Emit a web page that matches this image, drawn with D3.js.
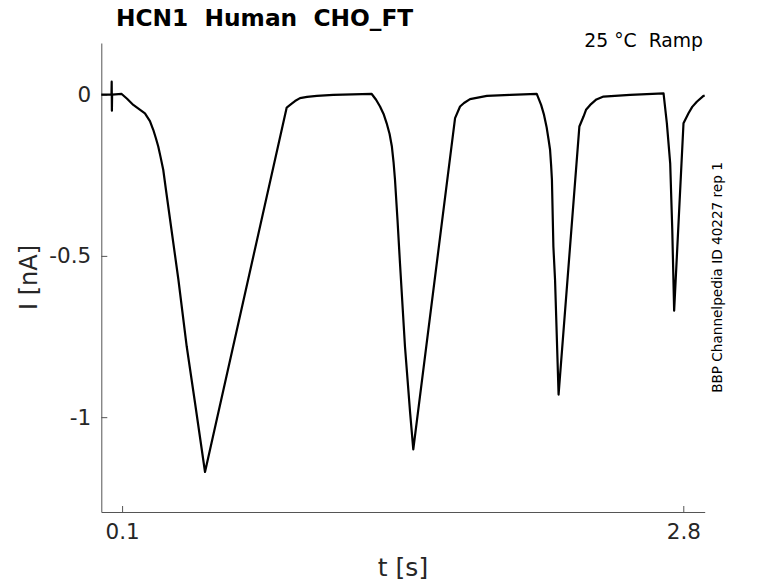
<!DOCTYPE html>
<html>
<head>
<meta charset="utf-8">
<script src="https://cdn.jsdelivr.net/npm/d3@7"></script>
<style>
  body { margin: 0; background: #fff; }
  text { font-family: "DejaVu Sans", sans-serif; }
</style>
</head>
<body>
<svg class="chart"></svg>
<script>

// recorded current trace (time in s, current in nA)
var timeValues = [
  0, 0.042, 0.049, 0.050, 0.051, 0.052, 0.098, 0.124, 0.154, 0.210, 0.234, 0.250, 0.263, 0.274, 0.285, 0.298, 0.311, 0.331, 0.371, 0.411, 0.451, 0.499,
  0.892, 0.916, 0.932, 0.956, 0.990, 1.037, 1.116, 1.301,
  1.322, 1.341, 1.358, 1.373, 1.387, 1.398, 1.406, 1.413, 1.425, 1.437, 1.461, 1.486, 1.501,
  1.702, 1.726, 1.745, 1.774, 1.855, 1.967, 2.095,
  2.116, 2.130, 2.143, 2.152, 2.159, 2.164, 2.168, 2.175, 2.183, 2.200,
  2.300, 2.320, 2.332, 2.352, 2.382, 2.416, 2.544, 2.705,
  2.721, 2.737, 2.747, 2.756,
  2.801, 2.825, 2.843, 2.865, 2.897, 2.903
];
var currentValues = [
  0, 0, 0, 0.04, -0.05, 0, 0.002, -0.013, -0.032, -0.058, -0.082, -0.109, -0.136, -0.161, -0.193, -0.233, -0.295, -0.388, -0.574, -0.781, -0.956, -1.17,
  -0.040, -0.028, -0.020, -0.011, -0.007, -0.004, -0.001, 0.002,
  -0.016, -0.037, -0.060, -0.089, -0.122, -0.161, -0.209, -0.264, -0.388, -0.523, -0.781, -0.988, -1.10,
  -0.073, -0.037, -0.026, -0.014, -0.004, -0.001, 0.002,
  -0.032, -0.063, -0.103, -0.140, -0.171, -0.218, -0.264, -0.471, -0.574, -0.93,
  -0.099, -0.068, -0.047, -0.032, -0.015, -0.006, -0.001, 0.004,
  -0.089, -0.213, -0.42, -0.67,
  -0.089, -0.058, -0.038, -0.022, -0.004, -0.004
];

var xTicks = [0.1, 2.8];
var yTicks = [-1, -0.5, 0];
var xDomain = [0, 2.903];
var yDomain = [-1.294, 0.16];

var width = 778
  , height = 583
  , plotLeft = 101.3
  , plotRight = 704.7
  , plotTop = 43
  , plotBottom = 512
  , axisColor = "#555";

var chart = d3.select(".chart").attr("width", width).attr("height", height);

var x = d3.scaleLinear().domain(xDomain).range([plotLeft, plotRight]);
var y = d3.scaleLinear().domain(yDomain).range([plotBottom, plotTop]);

// axes: ticks pointing inward, no box
var xAxis = d3.axisBottom(x).tickValues(xTicks).tickSize(-6).tickPadding(12)
  .tickFormat(function(d){ return String(d); }).tickSizeOuter(0);
var yAxis = d3.axisLeft(y).tickValues(yTicks).tickSize(-6).tickPadding(10)
  .tickFormat(function(d){ return String(d); }).tickSizeOuter(0);

var gx = chart.append("g")
  .attr("transform", "translate(0," + plotBottom + ")")
  .call(xAxis);
var gy = chart.append("g")
  .attr("transform", "translate(" + plotLeft + ",0)")
  .call(yAxis);

[gx, gy].forEach(function(g){
  g.select(".domain").attr("stroke", axisColor).attr("stroke-width", 1);
  g.selectAll(".tick line").attr("stroke", axisColor);
  g.selectAll(".tick text")
    .attr("fill", "#262626")
    .style("font-family", "DejaVu Sans, sans-serif")
    .style("font-size", "21.5px");
});

// trace
var points = timeValues.map(function(t, i){ return [t, currentValues[i]]; });
var line = d3.line()
  .x(function(d){ return x(d[0]); })
  .y(function(d){ return y(d[1]); });

chart.append("path")
  .datum(points)
  .attr("d", line)
  .attr("fill", "none")
  .attr("stroke", "#000")
  .attr("stroke-width", 2.2)
  .attr("stroke-linejoin", "round");

// labels
chart.append("text")
  .attr("x", 116)
  .attr("y", 26)
  .style("font-size", "23.3px")
  .style("font-weight", "bold")
  .attr("fill", "#000")
  .attr("xml:space", "preserve")
  .text("HCN1  Human  CHO_FT");

chart.append("text")
  .attr("x", 703)
  .attr("y", 47)
  .attr("text-anchor", "end")
  .style("font-size", "18.8px")
  .attr("fill", "#000")
  .attr("xml:space", "preserve")
  .text("25 \u00b0C  Ramp");

chart.append("text")
  .attr("x", (plotLeft + plotRight) / 2)
  .attr("y", 576)
  .attr("text-anchor", "middle")
  .style("font-size", "25px")
  .attr("fill", "#262626")
  .text("t [s]");

chart.append("text")
  .attr("transform", "translate(36.5," + (plotTop + plotBottom) / 2 + ") rotate(-90)")
  .attr("text-anchor", "middle")
  .style("font-size", "24px")
  .attr("fill", "#262626")
  .text("I [nA]");

chart.append("text")
  .attr("transform", "translate(722," + (plotTop + plotBottom) / 2 + ") rotate(-90)")
  .attr("text-anchor", "middle")
  .style("font-size", "13.6px")
  .attr("fill", "#000")
  .text("BBP Channelpedia ID 40227 rep 1");

</script>
</body>
</html>
